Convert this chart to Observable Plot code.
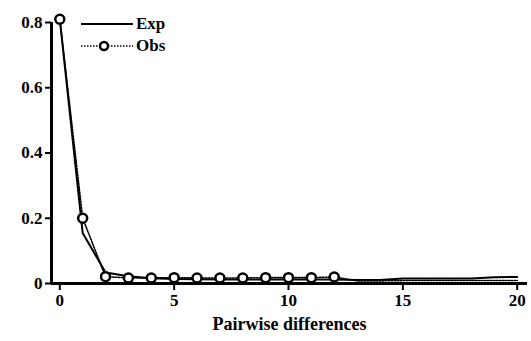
<!DOCTYPE html>
<html>
<head>
<meta charset="utf-8">
<script src="https://cdn.jsdelivr.net/npm/d3@7"></script>
<script src="https://cdn.jsdelivr.net/npm/@observablehq/plot@0.6"></script>
<style>
  html, body { margin: 0; padding: 0; background: #fff; }
  #wrap { position: relative; width: 531px; height: 341px; }
  #legend { position: absolute; left: 80px; top: 13px; font: bold 17px "Liberation Serif", "Times New Roman", serif; }
  #legend .row { display: flex; align-items: center; height: 22px; }
  #legend svg { display: block; }
</style>
</head>
<body>
<div id="wrap">
  <div id="chart"></div>
  <div id="legend">
    <div class="row"><svg width="54" height="12"><line x1="1" x2="53" y1="6" y2="6" stroke="#000" stroke-width="2"/></svg><span style="margin-left:2px">Exp</span></div>
    <div class="row"><svg width="54" height="12"><line x1="1" x2="53" y1="6" y2="6" stroke="#000" stroke-width="1.6" stroke-dasharray="1.5,1.5"/><circle cx="24" cy="6" r="4" fill="#fff" stroke="#000" stroke-width="2.5"/></svg><span style="margin-left:2px">Obs</span></div>
  </div>
</div>
<script>
// Pairwise differences (x)
const diffs = [0,1,2,3,4,5,6,7,8,9,10,11,12,13,14,15,16,17,18,19,20];
// Expected frequencies
const expVals = [0.81,0.155,0.034,0.022,0.016,0.014,0.013,0.012,0.012,0.012,0.012,0.012,0.012,0.011,0.011,0.015,0.015,0.015,0.015,0.019,0.02];
// Observed frequencies (markers shown up to 12)
const obsVals = [0.81,0.2,0.021,0.017,0.017,0.018,0.017,0.017,0.017,0.018,0.018,0.018,0.02,0.008,0.008,0.009,0.009,0.009,0.009,0.009,0.009];
const obsMarkerMax = 12;
const xTicks = [0,5,10,15,20];
const yTicks = [0,0.2,0.4,0.6,0.8];
const xLabel = "Pairwise differences";

const expData = diffs.map((d,i) => ({x: d, y: expVals[i]}));
const obsData = diffs.map((d,i) => ({x: d, y: obsVals[i]}));
const obsMarkers = obsData.filter(d => d.x <= obsMarkerMax);

const xDomain = [-0.363, 20.45];
const yDomain = [0, 0.8];

const chart = Plot.plot({
  width: 531,
  height: 341,
  marginLeft: 51,
  marginRight: 4,
  marginTop: 22,
  marginBottom: 58,
  style: {fontFamily: '"Liberation Serif", "Times New Roman", serif', fontSize: "17px", fontWeight: "bold", background: "#fff", color: "#000"},
  x: {domain: xDomain},
  y: {domain: yDomain},
  marks: [
    Plot.axisX({ticks: xTicks, tickSize: 7, tickPadding: 3, strokeWidth: 2, tickFormat: d => String(d), fontSize: 17, fontWeight: "bold", label: null}),
    Plot.axisY({ticks: yTicks, tickSize: 6, tickPadding: 3, strokeWidth: 2, tickFormat: d => d === 0 ? "0" : d3.format(".1f")(d), fontSize: 17, fontWeight: "bold", label: null}),
    Plot.text([xLabel], {frameAnchor: "bottom", dy: 46, fontSize: 18, fontWeight: "bold"}),
    Plot.ruleY([0], {x1: xDomain[0], x2: xDomain[1], strokeWidth: 3}),
    Plot.ruleX([xDomain[0]], {y1: yDomain[0], y2: yDomain[1], strokeWidth: 3}),
    Plot.line(obsData, {x: "x", y: "y", stroke: "#000", strokeWidth: 1.6, strokeDasharray: "1.5,1.5"}),
    Plot.line(expData, {x: "x", y: "y", stroke: "#000", strokeWidth: 2}),
    Plot.dot(obsMarkers, {x: "x", y: "y", r: 4.5, fill: "#fff", stroke: "#000", strokeWidth: 2.5})
  ]
});
document.getElementById("chart").appendChild(chart);
</script>
</body>
</html>
